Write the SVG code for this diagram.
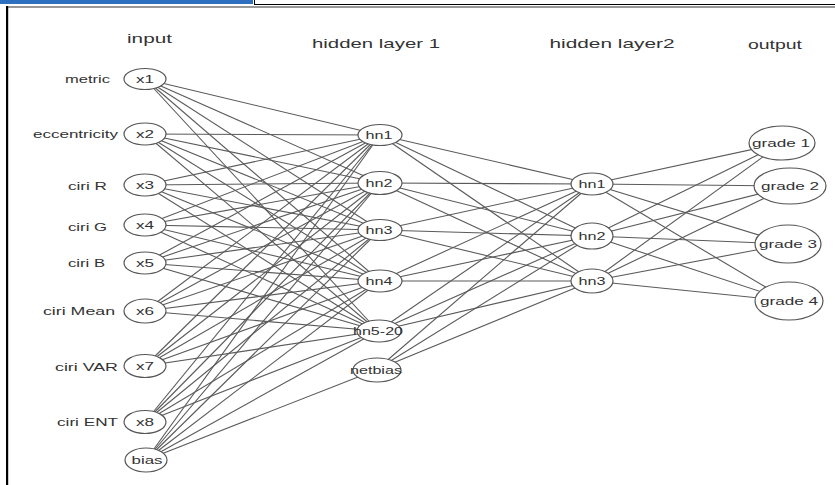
<svg xmlns="http://www.w3.org/2000/svg" width="835" height="485" viewBox="0 0 835 485">
<style>
.t{font-family:"Liberation Sans",Arial,sans-serif;fill:#333}
.h{font-size:13.5px}
.l{font-size:11px}
.n{font-size:11px;text-anchor:middle}
.e{fill:#fff;stroke:#555;stroke-width:1.2}
#conn line{stroke:#5a5a5a;stroke-width:1.1}
</style>
<rect width="835" height="485" fill="#fff"/>
<g id="frame">
<rect x="0" y="0" width="253" height="4" fill="#2f6fc0"/>
<line x1="254.5" y1="0" x2="254.5" y2="4.5" stroke="#000" stroke-width="1"/>
<line x1="254" y1="4.5" x2="835" y2="4.5" stroke="#000" stroke-width="1"/>
<line x1="6" y1="7" x2="835" y2="7" stroke="#333" stroke-width="1.2"/>
<rect x="6" y="6" width="2.2" height="479" fill="#000"/>
</g>
<g id="headers">
<text class="t h" x="149.5" y="43" text-anchor="middle" textLength="45" lengthAdjust="spacingAndGlyphs">input</text>
<text class="t h" x="376" y="48" text-anchor="middle" textLength="128" lengthAdjust="spacingAndGlyphs">hidden layer 1</text>
<text class="t h" x="612" y="48" text-anchor="middle" textLength="125" lengthAdjust="spacingAndGlyphs">hidden layer2</text>
<text class="t h" x="775" y="49" text-anchor="middle" textLength="54" lengthAdjust="spacingAndGlyphs">output</text>
</g>
<g id="input-labels">
<text class="t l" x="65" y="83" textLength="45" lengthAdjust="spacingAndGlyphs">metric</text>
<text class="t l" x="33" y="138" textLength="85" lengthAdjust="spacingAndGlyphs">eccentricity</text>
<text class="t l" x="68" y="190" textLength="39" lengthAdjust="spacingAndGlyphs">ciri R</text>
<text class="t l" x="68" y="231" textLength="39" lengthAdjust="spacingAndGlyphs">ciri G</text>
<text class="t l" x="68" y="267" textLength="37" lengthAdjust="spacingAndGlyphs">ciri B</text>
<text class="t l" x="43" y="315" textLength="72" lengthAdjust="spacingAndGlyphs">ciri Mean</text>
<text class="t l" x="55" y="371" textLength="63" lengthAdjust="spacingAndGlyphs">ciri VAR</text>
<text class="t l" x="57" y="426" textLength="61" lengthAdjust="spacingAndGlyphs">ciri ENT</text>
</g>
<g id="conn">
<line x1="145" y1="79" x2="380" y2="135"/><line x1="145" y1="79" x2="380" y2="183"/><line x1="145" y1="79" x2="380" y2="230"/><line x1="145" y1="79" x2="380" y2="281"/><line x1="145" y1="79" x2="378" y2="331"/>
<line x1="145" y1="134" x2="380" y2="135"/><line x1="145" y1="134" x2="380" y2="183"/><line x1="145" y1="134" x2="380" y2="230"/><line x1="145" y1="134" x2="380" y2="281"/><line x1="145" y1="134" x2="378" y2="331"/>
<line x1="145" y1="185" x2="380" y2="135"/><line x1="145" y1="185" x2="380" y2="183"/><line x1="145" y1="185" x2="380" y2="230"/><line x1="145" y1="185" x2="380" y2="281"/><line x1="145" y1="185" x2="378" y2="331"/>
<line x1="145" y1="225" x2="380" y2="135"/><line x1="145" y1="225" x2="380" y2="183"/><line x1="145" y1="225" x2="380" y2="230"/><line x1="145" y1="225" x2="380" y2="281"/><line x1="145" y1="225" x2="378" y2="331"/>
<line x1="145" y1="263" x2="380" y2="135"/><line x1="145" y1="263" x2="380" y2="183"/><line x1="145" y1="263" x2="380" y2="230"/><line x1="145" y1="263" x2="380" y2="281"/><line x1="145" y1="263" x2="378" y2="331"/>
<line x1="145" y1="311" x2="380" y2="135"/><line x1="145" y1="311" x2="380" y2="183"/><line x1="145" y1="311" x2="380" y2="230"/><line x1="145" y1="311" x2="380" y2="281"/><line x1="145" y1="311" x2="378" y2="331"/>
<line x1="145" y1="366" x2="380" y2="135"/><line x1="145" y1="366" x2="380" y2="183"/><line x1="145" y1="366" x2="380" y2="230"/><line x1="145" y1="366" x2="380" y2="281"/><line x1="145" y1="366" x2="378" y2="331"/>
<line x1="145" y1="422" x2="380" y2="135"/><line x1="145" y1="422" x2="380" y2="183"/><line x1="145" y1="422" x2="380" y2="230"/><line x1="145" y1="422" x2="380" y2="281"/><line x1="145" y1="422" x2="378" y2="331"/>
<line x1="146" y1="460" x2="380" y2="135"/><line x1="146" y1="460" x2="380" y2="183"/><line x1="146" y1="460" x2="380" y2="230"/><line x1="146" y1="460" x2="380" y2="281"/><line x1="146" y1="460" x2="378" y2="331"/><line x1="146" y1="460" x2="376" y2="370"/>
<line x1="380" y1="135" x2="592" y2="184"/><line x1="380" y1="135" x2="592" y2="236"/><line x1="380" y1="135" x2="592" y2="281"/>
<line x1="380" y1="183" x2="592" y2="184"/><line x1="380" y1="183" x2="592" y2="236"/><line x1="380" y1="183" x2="592" y2="281"/>
<line x1="380" y1="230" x2="592" y2="184"/><line x1="380" y1="230" x2="592" y2="236"/><line x1="380" y1="230" x2="592" y2="281"/>
<line x1="380" y1="281" x2="592" y2="184"/><line x1="380" y1="281" x2="592" y2="236"/><line x1="380" y1="281" x2="592" y2="281"/>
<line x1="378" y1="331" x2="592" y2="184"/><line x1="378" y1="331" x2="592" y2="236"/><line x1="378" y1="331" x2="592" y2="281"/>
<line x1="376" y1="370" x2="592" y2="184"/><line x1="376" y1="370" x2="592" y2="236"/><line x1="376" y1="370" x2="592" y2="281"/>
<line x1="592" y1="184" x2="782" y2="143"/><line x1="592" y1="184" x2="790" y2="186"/><line x1="592" y1="184" x2="788" y2="244"/><line x1="592" y1="184" x2="789" y2="301"/>
<line x1="592" y1="236" x2="782" y2="143"/><line x1="592" y1="236" x2="790" y2="186"/><line x1="592" y1="236" x2="788" y2="244"/><line x1="592" y1="236" x2="789" y2="301"/>
<line x1="592" y1="281" x2="782" y2="143"/><line x1="592" y1="281" x2="790" y2="186"/><line x1="592" y1="281" x2="788" y2="244"/><line x1="592" y1="281" x2="789" y2="301"/>
</g>
<g id="in-x1"><ellipse class="e" cx="145" cy="79" rx="21" ry="10.5"/><text class="t n" x="145" y="83" textLength="18" lengthAdjust="spacingAndGlyphs">x1</text></g>
<g id="in-x2"><ellipse class="e" cx="145" cy="134" rx="21" ry="11"/><text class="t n" x="145" y="138" textLength="18" lengthAdjust="spacingAndGlyphs">x2</text></g>
<g id="in-x3"><ellipse class="e" cx="145" cy="185" rx="21" ry="11"/><text class="t n" x="145" y="189" textLength="18" lengthAdjust="spacingAndGlyphs">x3</text></g>
<g id="in-x4"><ellipse class="e" cx="145" cy="225" rx="21" ry="11"/><text class="t n" x="145" y="229" textLength="18" lengthAdjust="spacingAndGlyphs">x4</text></g>
<g id="in-x5"><ellipse class="e" cx="145" cy="263" rx="21" ry="11"/><text class="t n" x="145" y="267" textLength="18" lengthAdjust="spacingAndGlyphs">x5</text></g>
<g id="in-x6"><ellipse class="e" cx="145" cy="311" rx="21" ry="12"/><text class="t n" x="145" y="315" textLength="18" lengthAdjust="spacingAndGlyphs">x6</text></g>
<g id="in-x7"><ellipse class="e" cx="145" cy="366" rx="21" ry="11.5"/><text class="t n" x="145" y="370" textLength="18" lengthAdjust="spacingAndGlyphs">x7</text></g>
<g id="in-x8"><ellipse class="e" cx="145" cy="422" rx="21" ry="11.5"/><text class="t n" x="145" y="426" textLength="18" lengthAdjust="spacingAndGlyphs">x8</text></g>
<g id="in-bias"><ellipse class="e" cx="146" cy="460" rx="21" ry="12"/><text class="t n" x="147" y="464" textLength="31" lengthAdjust="spacingAndGlyphs">bias</text></g>
<g id="h1-hn1"><ellipse class="e" cx="380" cy="135" rx="22" ry="10.5"/><text class="t n" x="379" y="139" textLength="27" lengthAdjust="spacingAndGlyphs">hn1</text></g>
<g id="h1-hn2"><ellipse class="e" cx="380" cy="183" rx="22" ry="11.5"/><text class="t n" x="379" y="187" textLength="27" lengthAdjust="spacingAndGlyphs">hn2</text></g>
<g id="h1-hn3"><ellipse class="e" cx="380" cy="230" rx="22" ry="10.5"/><text class="t n" x="379" y="234" textLength="27" lengthAdjust="spacingAndGlyphs">hn3</text></g>
<g id="h1-hn4"><ellipse class="e" cx="380" cy="281" rx="22" ry="11"/><text class="t n" x="379" y="285" textLength="27" lengthAdjust="spacingAndGlyphs">hn4</text></g>
<g id="h1-hn5-20"><ellipse class="e" cx="379" cy="331" rx="22" ry="11"/><text class="t n" x="378" y="335" textLength="50" lengthAdjust="spacingAndGlyphs">hn5-20</text></g>
<g id="h1-netbias"><ellipse class="e" cx="377" cy="370" rx="24" ry="12"/><text class="t n" x="376" y="374" textLength="52" lengthAdjust="spacingAndGlyphs">netbias</text></g>
<g id="h2-hn1"><ellipse class="e" cx="592" cy="184" rx="21" ry="11"/><text class="t n" x="592" y="188" textLength="27" lengthAdjust="spacingAndGlyphs">hn1</text></g>
<g id="h2-hn2"><ellipse class="e" cx="592" cy="236" rx="21" ry="13"/><text class="t n" x="592" y="240" textLength="27" lengthAdjust="spacingAndGlyphs">hn2</text></g>
<g id="h2-hn3"><ellipse class="e" cx="592" cy="281" rx="21" ry="12"/><text class="t n" x="592" y="285" textLength="27" lengthAdjust="spacingAndGlyphs">hn3</text></g>
<g id="out-grade1"><ellipse class="e" cx="782" cy="143" rx="33" ry="17"/><text class="t n" x="781" y="147" textLength="58" lengthAdjust="spacingAndGlyphs">grade 1</text></g>
<g id="out-grade2"><ellipse class="e" cx="790" cy="186" rx="36" ry="18"/><text class="t n" x="790" y="190" textLength="58" lengthAdjust="spacingAndGlyphs">grade 2</text></g>
<g id="out-grade3"><ellipse class="e" cx="788" cy="244" rx="33" ry="19"/><text class="t n" x="788" y="248" textLength="58" lengthAdjust="spacingAndGlyphs">grade 3</text></g>
<g id="out-grade4"><ellipse class="e" cx="789" cy="301" rx="34" ry="19"/><text class="t n" x="789" y="305" textLength="58" lengthAdjust="spacingAndGlyphs">grade 4</text></g>
</svg>
